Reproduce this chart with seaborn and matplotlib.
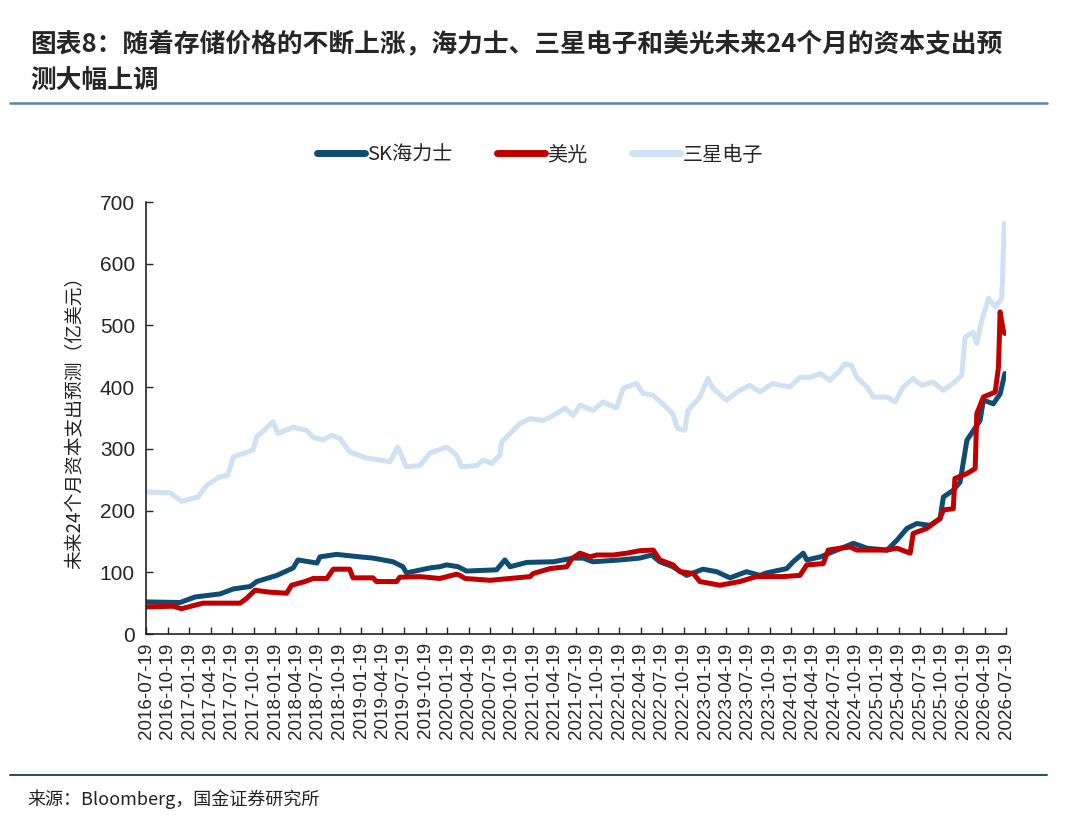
import matplotlib
matplotlib.use("Agg")
import matplotlib.pyplot as plt
from matplotlib.lines import Line2D
import seaborn as sns
import pandas as pd

# values (亿美元)
sk_dates = ["2016-07-20", "2016-12-10", "2017-02-13", "2017-05-30", "2017-07-25", "2017-10-05",
            "2017-11-01", "2018-01-26", "2018-04-05", "2018-04-25", "2018-07-15", "2018-07-28",
            "2018-10-06", "2019-01-13", "2019-03-10", "2019-06-03", "2019-07-15", "2019-07-30",
            "2019-11-06", "2019-12-18", "2020-01-17", "2020-03-05", "2020-04-10", "2020-08-16",
            "2020-09-20", "2020-10-12", "2020-12-22", "2021-04-13", "2021-07-07", "2021-08-18",
            "2021-09-29", "2022-01-22", "2022-04-16", "2022-06-05", "2022-07-10", "2022-09-03",
            "2022-11-01", "2023-01-09", "2023-03-08", "2023-05-04", "2023-07-13", "2023-09-08",
            "2023-10-06", "2023-12-31", "2024-01-27", "2024-03-10", "2024-03-25", "2024-05-22",
            "2024-07-31", "2024-10-09", "2024-12-06", "2025-03-01", "2025-04-12", "2025-05-24",
            "2025-07-05", "2025-08-30", "2025-10-12", "2025-10-26", "2025-12-07", "2026-01-05",
            "2026-02-03", "2026-03-03", "2026-03-31", "2026-04-14", "2026-05-26", "2026-06-24",
            "2026-07-14"]
sk_vals = [52, 51, 60, 65, 73, 77,
           85, 95, 107, 120, 115, 125,
           129, 125, 123, 117, 109, 99,
           107, 109, 112, 109, 102, 104,
           120, 109, 116, 117, 123, 123,
           117, 120, 123, 128, 117, 109,
           95, 105, 101, 91, 101, 95,
           99, 106, 117, 131, 120, 125,
           136, 147, 139, 136, 152, 171,
           179, 176, 187, 222, 233, 246,
           314, 330, 346, 379, 373, 389,
           422]

mu_dates = ["2016-07-20", "2016-11-11", "2016-12-17", "2017-03-18", "2017-08-23", "2017-09-20",
            "2017-10-25", "2017-12-20", "2018-03-08", "2018-03-29", "2018-05-25", "2018-06-29",
            "2018-08-26", "2018-09-22", "2018-12-01", "2018-12-15", "2019-03-10", "2019-03-25",
            "2019-06-18", "2019-07-02", "2019-09-25", "2019-12-18", "2020-02-28", "2020-03-13",
            "2020-04-04", "2020-07-19", "2021-01-05", "2021-01-18", "2021-03-31", "2021-06-10",
            "2021-07-01", "2021-08-05", "2021-09-17", "2021-10-15", "2021-12-24", "2022-02-20",
            "2022-04-16", "2022-06-12", "2022-07-10", "2022-09-04", "2022-10-03", "2022-11-29",
            "2022-12-27", "2023-03-22", "2023-06-15", "2023-08-24", "2023-12-16", "2024-02-25",
            "2024-03-25", "2024-06-03", "2024-06-24", "2024-08-13", "2024-09-25", "2024-10-23",
            "2025-03-01", "2025-04-12", "2025-06-07", "2025-06-20", "2025-08-16", "2025-10-12",
            "2025-10-26", "2025-12-07", "2025-12-14", "2026-02-03", "2026-03-10", "2026-03-17",
            "2026-04-14", "2026-06-03", "2026-06-17", "2026-06-24", "2026-07-07", "2026-07-14"]
mu_vals = [44, 45, 41, 50, 50, 58,
           71, 68, 66, 79, 85, 90,
           90, 105, 105, 91, 91, 85,
           85, 92, 93, 90, 97, 95,
           90, 87, 93, 98, 106, 109,
           122, 131, 125, 128, 128, 131,
           135, 136, 120, 112, 101, 98,
           85, 79, 85, 93, 93, 95,
           112, 114, 136, 139, 141, 136,
           136, 139, 131, 163, 171, 187,
           201, 203, 252, 260, 268, 357,
           384, 392, 432, 522, 492, 487]

ss_dates = ["2016-07-20", "2016-10-28", "2016-12-17", "2017-02-25", "2017-04-03", "2017-05-30",
            "2017-07-01", "2017-07-25", "2017-10-16", "2017-11-01", "2018-01-09", "2018-01-30",
            "2018-04-05", "2018-06-01", "2018-06-29", "2018-08-09", "2018-09-15", "2018-10-20",
            "2018-12-01", "2019-02-11", "2019-04-08", "2019-05-21", "2019-06-23", "2019-07-30",
            "2019-09-25", "2019-11-06", "2020-01-17", "2020-02-28", "2020-03-20", "2020-05-23",
            "2020-06-20", "2020-07-26", "2020-08-30", "2020-09-06", "2020-10-12", "2020-11-23",
            "2021-01-05", "2021-03-01", "2021-04-13", "2021-06-03", "2021-07-07", "2021-08-05",
            "2021-09-29", "2021-11-10", "2022-01-07", "2022-02-04", "2022-04-02", "2022-04-29",
            "2022-06-10", "2022-07-22", "2022-09-03", "2022-09-24", "2022-10-24", "2022-11-06",
            "2022-12-27", "2023-01-30", "2023-02-21", "2023-04-19", "2023-06-15", "2023-07-27",
            "2023-09-08", "2023-11-02", "2024-01-13", "2024-02-25", "2024-04-08", "2024-05-22",
            "2024-07-01", "2024-08-13", "2024-09-03", "2024-10-02", "2024-10-23", "2024-12-06",
            "2025-01-01", "2025-03-01", "2025-04-04", "2025-05-08", "2025-06-19", "2025-07-26",
            "2025-09-12", "2025-10-25", "2025-12-06", "2026-01-12", "2026-01-26", "2026-03-01",
            "2026-03-17", "2026-04-07", "2026-05-06", "2026-06-03", "2026-06-24", "2026-07-01",
            "2026-07-12"]
ss_vals = [230, 229, 215, 222, 241, 255,
           257, 287, 298, 319, 344, 325,
           335, 330, 319, 314, 322, 317,
           295, 285, 282, 279, 303, 271,
           273, 293, 303, 290, 271, 273,
           282, 276, 290, 311, 325, 341,
           349, 346, 354, 366, 354, 371,
           362, 376, 366, 398, 406, 390,
           387, 373, 357, 333, 330, 362,
           384, 414, 398, 379, 395, 403,
           392, 406, 400, 416, 416, 422,
           411, 427, 438, 435, 416, 400,
           384, 384, 376, 400, 414, 403,
           408, 395, 406, 419, 481, 489,
           471, 508, 544, 530, 540, 545,
           665]

series_names = ["SK海力士", "美光", "三星电子"]
tick_labels = [f"{y}-{m:02d}-19" for y in range(2016, 2027) for m in (1, 4, 7, 10)
               if "2016-07" <= f"{y}-{m:02d}" <= "2026-07"]

colors = {"SK海力士": "#0e4d71", "美光": "#c00000", "三星电子": "#cfe2f3"}

df = pd.concat([
    pd.DataFrame({"date": pd.to_datetime(sk_dates), "value": sk_vals, "series": "SK海力士"}),
    pd.DataFrame({"date": pd.to_datetime(mu_dates), "value": mu_vals, "series": "美光"}),
    pd.DataFrame({"date": pd.to_datetime(ss_dates), "value": ss_vals, "series": "三星电子"}),
], ignore_index=True)

sns.set_style("ticks")
plt.rcParams["font.family"] = ["Liberation Sans", "Noto Sans CJK SC", "DejaVu Sans"]
cjk = ["Noto Sans CJK SC", "DejaVu Sans"]

fig = plt.figure(figsize=(10.8, 8.31), dpi=100)
ax = fig.add_axes([146 / 1080, 1 - 634 / 831, (1006 - 146) / 1080, (634 - 202) / 831])

# samsung first so the other two sit on top of it
for name in ["三星电子", "SK海力士", "美光"]:
    sns.lineplot(data=df[df["series"] == name], x="date", y="value", color=colors[name],
                 linewidth=3.6, ax=ax, legend=False, solid_joinstyle="round")

ticks = pd.to_datetime(tick_labels)
ax.set_xlim(ticks[0], ticks[-1])
ax.set_xticks(ticks)
ax.set_xticklabels(tick_labels, rotation=90, fontsize=13.5)
ax.set_ylim(0, 700)
ax.set_yticks(range(0, 701, 100))
ax.tick_params(axis="y", labelsize=15, direction="in", length=5, width=1, pad=8)
ax.tick_params(axis="x", direction="in", length=5, width=1, pad=6)
ax.set_xlabel("")
ax.set_ylabel("未来24个月资本支出预测（亿美元）", family=cjk, fontsize=13.5, color="#222222", labelpad=10)
sns.despine(ax=ax)
for s in ["left", "bottom"]:
    ax.spines[s].set_linewidth(1.2)
    ax.spines[s].set_color("#222222")

handles = [Line2D([0], [0], color=colors[n], linewidth=5) for n in series_names]
fig.legend(handles, series_names, loc="center", bbox_to_anchor=(0.5, 1 - 155 / 831),
           ncol=3, frameon=False, handlelength=2.4, handletextpad=0.1, columnspacing=2.2,
           prop={"family": cjk, "size": 14.5})

fig.text(30 / 1080, 1 - 45 / 831, "图表8：随着存储价格的不断上涨，海力士、三星电子和美光未来24个月的资本支出预",
         family=cjk, fontsize=18.5, fontweight="bold", ha="left", va="center")
fig.text(30 / 1080, 1 - 80 / 831, "测大幅上调", family=cjk, fontsize=18.5, fontweight="bold",
         ha="left", va="center")
fig.add_artist(Line2D([10 / 1080, 1047 / 1080], [1 - 103 / 831] * 2, color="#5a86a6", linewidth=1.8))
fig.add_artist(Line2D([10 / 1080, 1047 / 1080], [1 - 775 / 831] * 2, color="#1f4e6e", linewidth=1.4))
fig.text(27 / 1080, 1 - 799 / 831, "来源：Bloomberg，国金证券研究所", family=cjk, fontsize=13,
         color="#222222", ha="left", va="center")

fig.savefig("out.png", dpi=100)
